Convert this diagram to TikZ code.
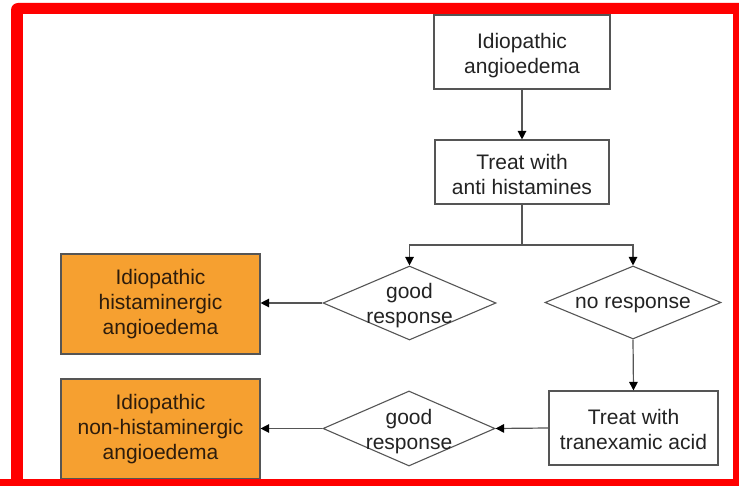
\documentclass[tikz,border=0pt]{standalone}
\usepackage{fontspec}
\setmainfont{Liberation Sans}
\usetikzlibrary{shapes.geometric,arrows.meta}
\definecolor{framered}{RGB}{255,0,0}
\definecolor{orangebox}{RGB}{246,160,48}
\definecolor{edgegray}{RGB}{85,85,85}
\definecolor{ink}{RGB}{35,35,35}
\definecolor{darkink}{RGB}{45,28,12}
% centred text block that does not change the size of its node
\newcommand{\dlabel}[2]{\raisebox{#1}[0pt][0pt]{\makebox[0pt]{\begin{tabular}{@{}c@{}}#2\end{tabular}}}}
\begin{document}
\begin{tikzpicture}[x=1pt,y=-1pt,
  every node/.style={font=\fontsize{21pt}{25pt}\selectfont},
  whitebox/.style={draw=edgegray, line width=1.1pt, fill=white, text=ink,
    inner sep=0pt, rectangle},
  orangebox/.style={draw=edgegray, line width=1.1pt, fill=orangebox, text=darkink,
    align=center, inner sep=0pt, rectangle, minimum width=199pt, minimum height=100pt},
  decision/.style={draw=edgegray, line width=1.1pt, fill=white, text=ink,
    diamond, inner sep=0pt},
  link/.style={draw=edgegray, line width=1.2pt},
  arr/.style={link, -{Triangle[length=8.5pt,width=8.5pt,color=black]}}]
\useasboundingbox (0,0) rectangle (739,486);
% red frame round the chart
\fill[framered, rounded corners=7pt] (11,3) rectangle (760,505);
\fill[white] (23,14) rectangle (733,479);

% boxes
\node[whitebox, minimum width=176pt, minimum height=74pt] (idio) at (522,52)
  {\dlabel{-9pt}{Idiopathic\\angioedema}};
\node[whitebox, minimum width=174pt, minimum height=64pt] (anti) at (522,172)
  {\dlabel{-10pt}{Treat with\\anti histamines}};
\node[decision, minimum width=173pt, minimum height=74pt] (good1) at (409.5,303)
  {\dlabel{-8.5pt}{good\\response}};
\node[decision, minimum width=176pt, minimum height=73pt] (nores) at (633,302.5)
  {\dlabel{-6pt}{no response}};
\node[whitebox, minimum width=169pt, minimum height=74pt] (tran) at (633.5,428)
  {\dlabel{-9.5pt}{Treat with\\tranexamic acid}};
\node[decision, minimum width=172pt, minimum height=75pt] (good2) at (409,428.5)
  {\dlabel{-8.5pt}{good\\response}};
\node[orangebox] (hist) at (160.5,304)
  {Idiopathic\\histaminergic\\angioedema};
\node[orangebox] (nonhist) at (160.5,429)
  {Idiopathic\\non-histaminergic\\angioedema};

% connectors
\coordinate (split) at (522,245);
\draw[arr] (idio) -- (anti);
\draw[link] (anti) -- (split);
\draw[arr] (split) -| (good1.north);
\draw[arr] (split) -| (nores.north);
\draw[arr] (good1.west) -- (hist.east |- good1.west);
\draw[arr] (nores.south) -- (tran.north);
\draw[arr] (tran.west) -- (good2.east);
\draw[arr] (good2.west) -- (nonhist.east |- good2.west);

% frame edge drawn over the lowest box
\fill[framered] (0,479) rectangle (739,486);
\end{tikzpicture}
\end{document}
